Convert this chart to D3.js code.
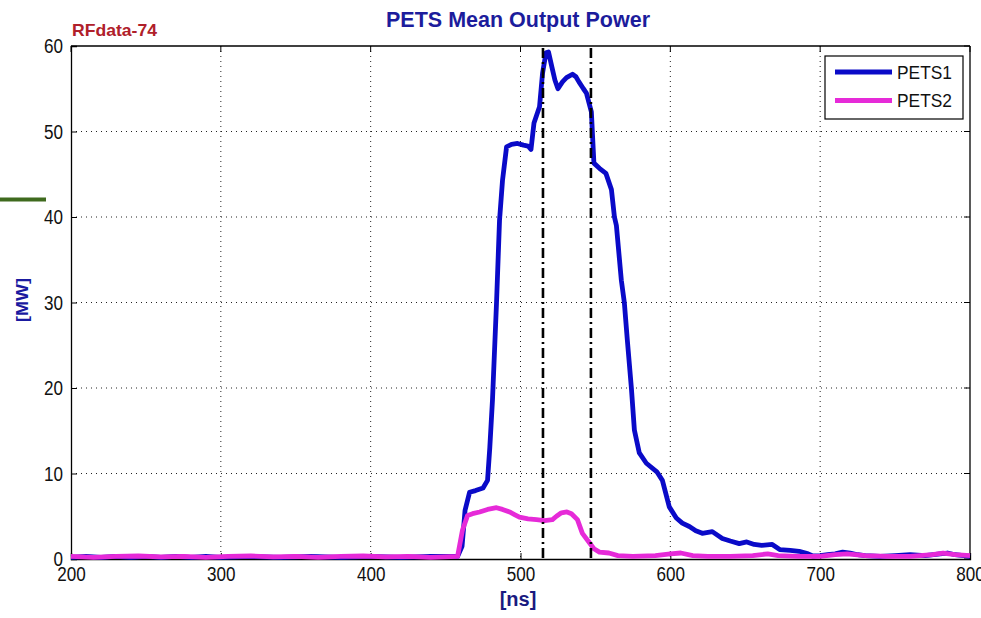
<!DOCTYPE html>
<html>
<head>
<meta charset="utf-8">
<script src="https://cdn.jsdelivr.net/npm/d3@7"></script>
<style>
  html, body { margin: 0; padding: 0; background: #ffffff; }
  svg { display: block; }
</style>
</head>
<body>
<svg id="chart" width="981" height="618"></svg>
<script>
// ---------------- DATA ----------------
const chartTitle = "PETS Mean Output Power";
const tagLabel = "RFdata-74";
const xLabel = "[ns]";
const yLabel = "[MW]";
const xTicks = [200, 300, 400, 500, 600, 700, 800];
const yTicks = [0, 10, 20, 30, 40, 50, 60];
const markerTimes = [515, 547];
const seriesNames = ["PETS1", "PETS2"];

const time1 = [200,210,220,230,240,250,260,270,280,290,300,320,340,360,380,400,420,440,458,
  461,463,466,470,475,478,479.5,481.3,484,486,488,490.7,494,498,502,505,507,509,512.7,514.7,
  517,518.7,521,523,525,528,530.7,534.7,537,539,542,544,547.3,548,549,552.7,557,560.7,562.7,
  564,567.3,569.3,571.3,574,576,579.3,584,591,594.7,599.3,604,608,612.7,617,621.3,628,634.7,
  640,646,651,656,661,668,673,680,686,692,695,700,705,710,715,720,725,730,740,750,760,770,780,785,790,800];
const pets1 = [0.2,0.3,0.2,0.3,0.2,0.3,0.2,0.3,0.2,0.3,0.2,0.3,0.2,0.3,0.2,0.3,0.2,0.3,0.3,
  1.5,5.7,7.8,8.0,8.3,9.2,13,18.6,30,39.6,44.3,48.2,48.5,48.6,48.4,48.3,47.9,51,52.9,56.8,
  59.2,59.3,57.5,56,55,55.8,56.3,56.7,56.4,55.8,55,54.5,52.3,49.8,46.3,45.7,45.1,43.2,40,
  39,32.6,30,25.6,20,15.1,12.4,11.2,10.2,9.2,6.1,4.8,4.2,3.8,3.3,3.0,3.2,2.4,
  2.1,1.8,2.0,1.7,1.6,1.7,1.1,1.0,0.9,0.6,0.35,0.4,0.5,0.6,0.8,0.7,0.5,0.4,0.3,0.4,0.5,0.4,0.6,0.7,0.5,0.3];

const time2 = [200,215,230,245,260,275,290,305,320,335,350,365,380,395,410,425,440,458,
  461.3,464.7,468,472.7,478,484,488,492.7,496,499.3,505,510.7,516,521.3,524,527.3,531,534,538,
  541.3,546,549,552.7,559,565,575,590,600,607,615,625,640,655,665,672,685,700,710,718,730,745,760,775,782,790,800];
const pets2 = [0.3,0.2,0.3,0.35,0.25,0.3,0.2,0.3,0.35,0.25,0.3,0.2,0.3,0.35,0.25,0.3,0.2,0.3,
  3.4,5.1,5.3,5.5,5.8,6.0,5.8,5.5,5.2,4.9,4.7,4.6,4.5,4.6,5.0,5.4,5.5,5.3,4.6,
  3.0,1.9,1.2,0.8,0.7,0.4,0.3,0.4,0.6,0.7,0.4,0.3,0.3,0.4,0.6,0.4,0.3,0.3,0.5,0.6,0.4,0.3,0.3,0.5,0.7,0.5,0.4];

const seriesColors = ["#0a0ac8", "#e62ad8"];

// ---------------- LAYOUT ----------------
const svg = d3.select("#chart");
const pLeft = 71, pRight = 970, pTop = 46, pBottom = 559;
const x = d3.scaleLinear().domain([200, 800]).range([pLeft, pRight]);
const y = d3.scaleLinear().domain([0, 60]).range([pBottom, pTop]);
const tickFont = "'Liberation Sans', Arial, sans-serif";

// decorative green bar at left
svg.append("line").attr("x1", 0).attr("x2", 46).attr("y1", 199.5).attr("y2", 199.5)
  .attr("stroke", "#3f6a1e").attr("stroke-width", 4);

// grid
const grid = svg.append("g");
grid.selectAll("line.gx").data(xTicks.slice(1, -1)).join("line")
  .attr("x1", d => x(d)).attr("x2", d => x(d)).attr("y1", pTop).attr("y2", pBottom)
  .attr("stroke", "#222").attr("stroke-width", 1).attr("stroke-dasharray", "1,4");
grid.selectAll("line.gy").data(yTicks.slice(1, -1)).join("line")
  .attr("y1", d => y(d)).attr("y2", d => y(d)).attr("x1", pLeft).attr("x2", pRight)
  .attr("stroke", "#222").attr("stroke-width", 1).attr("stroke-dasharray", "1,4");

// axes
const xAxis = d3.axisBottom(x).tickValues(xTicks).tickSize(-6).tickPadding(9).tickFormat(d3.format("d"));
const gx = svg.append("g").attr("transform", `translate(0,${pBottom})`).call(xAxis);
const yAxis = d3.axisLeft(y).tickValues(yTicks).tickSize(-6).tickPadding(8).tickFormat(d3.format("d"));
const gy = svg.append("g").attr("transform", `translate(${pLeft},0)`).call(yAxis);
[gx, gy].forEach(g => {
  g.select(".domain").attr("stroke", "#000").attr("stroke-width", 1.3);
  g.selectAll(".tick line").attr("stroke", "#000");
  g.selectAll(".tick text").attr("font-family", tickFont).attr("font-size", 20.5).attr("fill", "#111")
    .attr("textLength", d => String(d).length * 9.5).attr("lengthAdjust", "spacingAndGlyphs");
});
gx.selectAll(".tick text").attr("dy", "0.62em");
// top and right frame
svg.append("line").attr("x1", pLeft).attr("x2", pRight).attr("y1", pTop).attr("y2", pTop).attr("stroke", "#000").attr("stroke-width", 1.3);
svg.append("line").attr("x1", pRight).attr("x2", pRight).attr("y1", pTop).attr("y2", pBottom).attr("stroke", "#000").attr("stroke-width", 1.3);
// top/right ticks
svg.selectAll("line.tt").data(xTicks).join("line")
  .attr("x1", d => x(d)).attr("x2", d => x(d)).attr("y1", pTop).attr("y2", pTop + 6).attr("stroke", "#000");
svg.selectAll("line.rt").data(yTicks).join("line")
  .attr("y1", d => y(d)).attr("y2", d => y(d)).attr("x1", pRight).attr("x2", pRight - 6).attr("stroke", "#000");

// series
const line = d3.line().x(d => x(d[0])).y(d => y(d[1]));
const data1 = time1.map((t, i) => [t, pets1[i]]);
const data2 = time2.map((t, i) => [t, pets2[i]]);
svg.append("path").datum(data1).attr("d", line).attr("fill", "none")
  .attr("stroke", seriesColors[0]).attr("stroke-width", 4.8).attr("stroke-linejoin", "round");
svg.append("path").datum(data2).attr("d", line).attr("fill", "none")
  .attr("stroke", seriesColors[1]).attr("stroke-width", 4.8).attr("stroke-linejoin", "round");

// marker lines (dash-dot)
svg.selectAll("line.mk").data(markerTimes).join("line")
  .attr("x1", d => x(d)).attr("x2", d => x(d)).attr("y1", pTop + 2).attr("y2", pBottom)
  .attr("stroke", "#000").attr("stroke-width", 2.6).attr("stroke-dasharray", "10,4,2,4");

// legend
const lg = svg.append("g");
lg.append("rect").attr("x", 825).attr("y", 56).attr("width", 138).attr("height", 63)
  .attr("fill", "#fff").attr("stroke", "#000").attr("stroke-width", 1.2);
seriesNames.forEach((name, i) => {
  const ly = 72 + i * 28.5;
  lg.append("line").attr("x1", 835).attr("x2", 892).attr("y1", ly).attr("y2", ly)
    .attr("stroke", seriesColors[i]).attr("stroke-width", 4.8);
  lg.append("text").attr("x", 897).attr("y", ly).attr("dy", "0.36em")
    .attr("font-family", tickFont).attr("font-size", 19).attr("fill", "#111")
    .attr("textLength", 55).attr("lengthAdjust", "spacingAndGlyphs").text(name);
});

// titles
svg.append("text").attr("x", 518).attr("y", 27).attr("text-anchor", "middle")
  .attr("font-family", "'Liberation Sans', Arial, sans-serif").attr("font-weight", "bold")
  .attr("font-size", 21.5).attr("fill", "#1c1c9c").text(chartTitle);
svg.append("text").attr("x", 72).attr("y", 36)
  .attr("font-family", "'Liberation Sans', Arial, sans-serif").attr("font-weight", "bold")
  .attr("font-size", 17).attr("fill", "#b0202a")
  .attr("textLength", 85).attr("lengthAdjust", "spacingAndGlyphs").text(tagLabel);
svg.append("text").attr("x", 518).attr("y", 606).attr("text-anchor", "middle")
  .attr("font-family", "'Liberation Sans', Arial, sans-serif").attr("font-weight", "bold")
  .attr("font-size", 20).attr("fill", "#1a1a80").text(xLabel);
svg.append("text").attr("transform", "translate(28,300) rotate(-90)").attr("text-anchor", "middle")
  .attr("font-family", "'Liberation Sans', Arial, sans-serif").attr("font-weight", "bold")
  .attr("font-size", 17).attr("fill", "#1a1aa0")
  .attr("textLength", 44).attr("lengthAdjust", "spacingAndGlyphs").text(yLabel);
</script>
</body>
</html>
